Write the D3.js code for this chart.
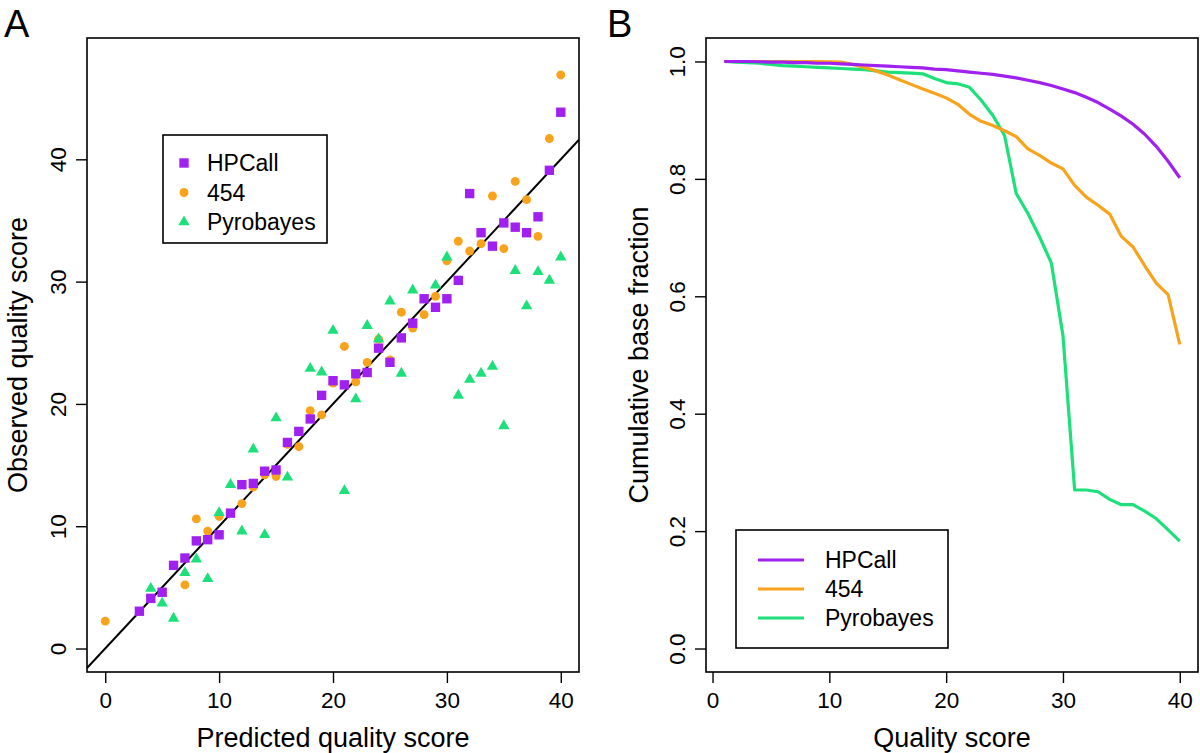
<!DOCTYPE html>
<html>
<head>
<meta charset="utf-8">
<script src="https://cdn.jsdelivr.net/npm/d3@7"></script>
<style>
  body { margin: 0; background: #fff; }
  svg { font-family: "Liberation Sans", Arial, Helvetica, sans-serif; }
  .box { fill: none; stroke: #000; stroke-width: 1.6; }
  .tick line { stroke: #000; stroke-width: 1.4; }
  .tick text { font-size: 22.5px; fill: #000; }
  .title { font-size: 27px; fill: #000; }
  .leg { font-size: 23px; fill: #000; }
</style>
</head>
<body>
<svg id="fig" width="1200" height="753"></svg>
<script>
// panel A: observed vs predicted quality score, one value per predicted score
var predicted = [0,1,2,3,4,5,6,7,8,9,10,11,12,13,14,15,16,17,18,19,20,
                 21,22,23,24,25,26,27,28,29,30,31,32,33,34,35,36,37,38,39,40];
var obsHPCall = [null,null,null,3.05,4.1,4.6,6.8,7.4,8.8,8.9,9.3,11.07,13.4,13.5,14.5,14.6,16.85,17.75,18.77,20.7,21.9,
                 21.56,22.46,22.57,24.56,23.4,25.4,26.6,28.6,27.9,28.6,30.1,37.2,34.0,32.9,34.8,34.45,34.0,35.3,39.1,43.85];
var obs454 = [2.24,null,null,null,null,null,null,5.2,10.6,9.6,10.8,null,11.85,13.2,14.2,14.07,16.7,16.5,19.45,19.1,21.7,
              24.7,21.8,23.4,25.3,23.6,27.5,26.2,27.3,28.8,31.7,33.3,32.5,33.1,37.0,32.7,38.2,36.7,33.7,41.7,46.9];
var obsPyro = [null,null,null,null,4.9,3.7,2.46,6.2,7.3,5.7,11.1,13.4,9.6,16.3,9.3,18.85,14.0,null,22.9,22.6,26.0,
               12.9,20.4,26.4,25.3,28.4,22.5,29.3,null,29.7,32.0,20.7,22.0,22.5,23.06,18.2,30.9,28.0,30.8,30.1,32.0];

// panel B: cumulative base fraction by quality score
var qScore = [1,2,3,4,5,6,7,8,9,10,11,12,13,14,15,16,17,18,19,20,
              21,22,23,24,25,26,27,28,29,30,31,32,33,34,35,36,37,38,39,40];
var cumHPCall = [1.0,1.0,1.0,0.9995,0.999,0.999,0.998,0.998,0.997,0.997,0.996,0.995,0.994,0.993,0.992,0.991,0.990,0.989,0.987,0.986,
                 0.984,0.982,0.980,0.978,0.975,0.972,0.968,0.964,0.959,0.953,0.947,0.939,0.930,0.919,0.907,0.893,0.876,0.855,0.830,0.802];
var cum454 = [1.0,1.0,1.0,1.0,1.0,1.0,1.0,1.0,1.0,0.9995,0.999,0.995,0.990,0.984,0.977,0.969,0.961,0.953,0.946,0.938,
              0.927,0.910,0.898,0.891,0.882,0.872,0.851,0.840,0.827,0.817,0.789,0.769,0.755,0.740,0.702,0.684,0.652,0.622,0.603,0.518];
var cumPyro = [1.0,0.999,0.998,0.997,0.995,0.993,0.992,0.991,0.990,0.989,0.988,0.987,0.986,0.984,0.982,0.981,0.980,0.979,0.971,0.964,
               0.962,0.956,0.934,0.908,0.874,0.775,0.741,0.701,0.657,0.533,0.270,0.270,0.267,0.254,0.245,0.245,0.234,0.221,0.202,0.183];

var seriesNames = ["HPCall", "454", "Pyrobayes"];
var xTicksA = [0,10,20,30,40], yTicksA = [0,10,20,30,40];
var xTicksB = [0,10,20,30,40], yTicksB = [0,0.2,0.4,0.6,0.8,1.0];

var colors = { "HPCall": "#A020F0", "454": "#F8A31B", "Pyrobayes": "#1EE07A" };

var svg = d3.select("#fig");
var top_ = 38, bottom = 672;

// ---------- panel A ----------
var xA = d3.scaleLinear().domain([-1.6, 41.6]).range([87, 579]);
var yA = d3.scaleLinear().domain([-1.92, 49.92]).range([bottom, top_]);

var gA = svg.append("g");

gA.append("g")
    .attr("class", "axis")
    .attr("transform", "translate(0," + bottom + ")")
    .call(d3.axisBottom(xA).tickValues(xTicksA).tickSize(11).tickFormat(d3.format("d")))
    .call(function(g) {
        g.select(".domain").remove();
        g.selectAll("text").attr("y", 36).attr("dy", 0);
    });

gA.append("g")
    .attr("class", "axis")
    .attr("transform", "translate(87,0)")
    .call(d3.axisLeft(yA).tickValues(yTicksA).tickSize(11).tickFormat(d3.format("d")))
    .call(function(g) {
        g.select(".domain").remove();
        g.selectAll("text")
            .attr("x", 0).attr("y", 0).attr("dy", 0)
            .attr("text-anchor", "middle")
            .attr("transform", "translate(-21,0) rotate(-90)");
    });

// identity line, clipped to the plot box
svg.append("clipPath").attr("id", "clipA")
  .append("rect").attr("x", 87).attr("y", top_).attr("width", 492).attr("height", bottom - top_);

gA.append("line")
    .attr("clip-path", "url(#clipA)")
    .attr("x1", xA(-1.6)).attr("y1", yA(-1.6))
    .attr("x2", xA(41.6)).attr("y2", yA(41.6))
    .attr("stroke", "#000").attr("stroke-width", 2);

var symbols = {
    "HPCall": d3.symbol().type(d3.symbolSquare).size(88),
    "454": d3.symbol().type(d3.symbolCircle).size(62),
    "Pyrobayes": d3.symbol().type(d3.symbolTriangle).size(56)
};

function pts(vals) {
    return predicted.map(function(p, i) { return { x: p, y: vals[i] }; })
                    .filter(function(d) { return d.y != null; });
}

// draw order: 454, Pyrobayes, HPCall
[["454", obs454], ["Pyrobayes", obsPyro], ["HPCall", obsHPCall]].forEach(function(s) {
    gA.selectAll(".pt-" + s[0])
      .data(pts(s[1]))
      .enter()
        .append("path")
        .attr("d", symbols[s[0]])
        .attr("transform", function(d) { return "translate(" + xA(d.x) + "," + yA(d.y) + ")"; })
        .attr("fill", colors[s[0]]);
});

gA.append("rect").attr("class", "box")
    .attr("x", 87).attr("y", top_).attr("width", 492).attr("height", bottom - top_);

gA.append("text").attr("class", "title")
    .attr("x", xA(20)).attr("y", 747).attr("text-anchor", "middle")
    .text("Predicted quality score");
gA.append("text").attr("class", "title")
    .attr("text-anchor", "middle")
    .attr("transform", "translate(27," + yA(24) + ") rotate(-90)")
    .text("Observed quality score");

// legend A
var legA = gA.append("g");
legA.append("rect").attr("class", "box")
    .attr("x", 163).attr("y", 135).attr("width", 164).attr("height", 108);
seriesNames.forEach(function(name, i) {
    var yy = 163 + i * 29.5;
    legA.append("path").attr("d", symbols[name])
        .attr("transform", "translate(184," + yy + ")")
        .attr("fill", colors[name]);
    legA.append("text").attr("class", "leg")
        .attr("x", 207).attr("y", yy + 8).text(name);
});

svg.append("text").attr("x", 4).attr("y", 37)
    .style("font-size", "38px").text("A");

// ---------- panel B ----------
var xB = d3.scaleLinear().domain([-0.56, 41.56]).range([706, 1198]);
var yB = d3.scaleLinear().domain([-0.04, 1.04]).range([bottom, top_]);

var gB = svg.append("g");

gB.append("g")
    .attr("class", "axis")
    .attr("transform", "translate(0," + bottom + ")")
    .call(d3.axisBottom(xB).tickValues(xTicksB).tickSize(11).tickFormat(d3.format("d")))
    .call(function(g) {
        g.select(".domain").remove();
        g.selectAll("text").attr("y", 36).attr("dy", 0);
    });

gB.append("g")
    .attr("class", "axis")
    .attr("transform", "translate(706,0)")
    .call(d3.axisLeft(yB).tickValues(yTicksB).tickSize(11).tickFormat(d3.format(".1f")))
    .call(function(g) {
        g.select(".domain").remove();
        g.selectAll("text")
            .attr("x", 0).attr("y", 0).attr("dy", 0)
            .attr("text-anchor", "middle")
            .attr("transform", "translate(-21,0) rotate(-90)");
    });

var line = d3.line()
    .x(function(d) { return xB(d[0]); })
    .y(function(d) { return yB(d[1]); });

[["HPCall", cumHPCall], ["454", cum454], ["Pyrobayes", cumPyro]].reverse().forEach(function(s) {
    gB.append("path")
        .datum(qScore.map(function(q, i) { return [q, s[1][i]]; }))
        .attr("d", line)
        .attr("fill", "none")
        .attr("stroke", colors[s[0]])
        .attr("stroke-width", 3.2)
        .attr("stroke-linejoin", "round");
});

gB.append("rect").attr("class", "box")
    .attr("x", 706).attr("y", top_).attr("width", 492).attr("height", bottom - top_);

gB.append("text").attr("class", "title")
    .attr("x", xB(20.5)).attr("y", 747).attr("text-anchor", "middle")
    .text("Quality score");
gB.append("text").attr("class", "title")
    .attr("text-anchor", "middle")
    .attr("transform", "translate(648," + yB(0.5) + ") rotate(-90)")
    .text("Cumulative base fraction");

// legend B
var legB = gB.append("g");
legB.append("rect").attr("class", "box")
    .attr("x", 736).attr("y", 530).attr("width", 212).attr("height", 118);
seriesNames.forEach(function(name, i) {
    var yy = 560 + i * 29;
    legB.append("line")
        .attr("x1", 758).attr("x2", 804).attr("y1", yy).attr("y2", yy)
        .attr("stroke", colors[name]).attr("stroke-width", 3.2);
    legB.append("text").attr("class", "leg")
        .attr("x", 825).attr("y", yy + 8).text(name);
});

svg.append("text").attr("x", 607).attr("y", 37)
    .style("font-size", "38px").text("B");
</script>
</body>
</html>
